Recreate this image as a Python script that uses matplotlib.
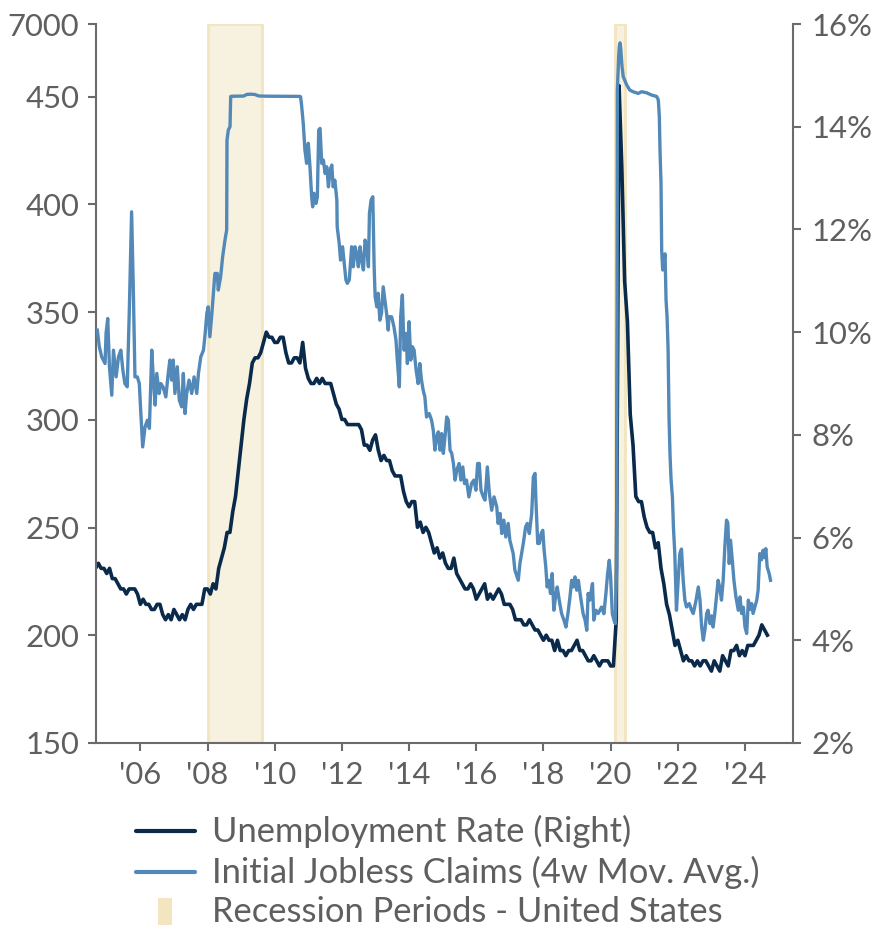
import numpy as np
import matplotlib
matplotlib.use('Agg')
import matplotlib.pyplot as plt
from matplotlib.lines import Line2D
from matplotlib.patches import Rectangle
from matplotlib.ticker import FixedLocator, FuncFormatter

# ---------------- data ----------------
# Unemployment rate (%), monthly, starting Sep 2004
unemp_start_year = 2004
unemp_start_month = 9
unemp = [5.4, 5.5, 5.4, 5.4,
         5.3, 5.4, 5.2, 5.2, 5.1, 5.0, 5.0, 4.9, 5.0, 5.0, 5.0, 4.9,
         4.7, 4.8, 4.7, 4.7, 4.6, 4.6, 4.7, 4.7, 4.5, 4.4, 4.5, 4.4,
         4.6, 4.5, 4.4, 4.5, 4.4, 4.6, 4.7, 4.6, 4.7, 4.7, 4.7, 5.0,
         5.0, 4.9, 5.1, 5.0, 5.4, 5.6, 5.8, 6.1, 6.1, 6.5, 6.8, 7.3,
         7.8, 8.3, 8.7, 9.0, 9.4, 9.5, 9.5, 9.6, 9.8, 10.0, 9.9, 9.9,
         9.8, 9.8, 9.9, 9.9, 9.6, 9.4, 9.4, 9.5, 9.5, 9.4, 9.8, 9.3,
         9.1, 9.0, 9.0, 9.1, 9.0, 9.1, 9.0, 9.0, 9.0, 8.8, 8.6, 8.5,
         8.3, 8.3, 8.2, 8.2, 8.2, 8.2, 8.2, 8.1, 7.8, 7.8, 7.7, 7.9,
         8.0, 7.7, 7.5, 7.6, 7.5, 7.5, 7.3, 7.2, 7.2, 7.2, 6.9, 6.7,
         6.6, 6.7, 6.7, 6.2, 6.3, 6.1, 6.2, 6.1, 5.9, 5.7, 5.8, 5.6,
         5.7, 5.5, 5.4, 5.4, 5.6, 5.3, 5.2, 5.1, 5.0, 5.0, 5.1, 5.0,
         4.8, 4.9, 5.0, 5.1, 4.8, 4.9, 4.8, 4.9, 5.0, 4.9, 4.7, 4.7,
         4.7, 4.6, 4.4, 4.4, 4.4, 4.3, 4.3, 4.4, 4.3, 4.2, 4.2, 4.1,
         4.0, 4.1, 4.0, 4.0, 3.8, 4.0, 3.8, 3.8, 3.7, 3.8, 3.8, 3.9,
         4.0, 3.8, 3.8, 3.7, 3.6, 3.6, 3.7, 3.6, 3.5, 3.6, 3.6, 3.6,
         3.5, 3.5, 4.4, 14.8, 13.2, 11.0, 10.2, 8.4, 7.8, 6.8, 6.7, 6.7,
         6.4, 6.2, 6.1, 6.1, 5.8, 5.9, 5.4, 5.1, 4.7, 4.5, 4.2, 3.9,
         4.0, 3.8, 3.6, 3.7, 3.6, 3.6, 3.5, 3.6, 3.5, 3.6, 3.6, 3.5,
         3.4, 3.6, 3.5, 3.4, 3.7, 3.6, 3.5, 3.8, 3.8, 3.9, 3.7, 3.8,
         3.7, 3.9, 3.9, 3.9, 4.0, 4.1, 4.3, 4.2, 4.1]

# Initial jobless claims, 4-week moving average (thousands): decimal year, value
claims_t = [2004.72, 2004.78, 2004.85, 2004.95, 2004.98, 2005.03, 2005.08, 2005.15, 2005.20, 2005.28,
            2005.35, 2005.42, 2005.48, 2005.54, 2005.61, 2005.67, 2005.74, 2005.79, 2005.84, 2005.91,
            2005.97, 2006.01, 2006.07, 2006.14, 2006.21, 2006.27, 2006.34, 2006.39, 2006.44, 2006.49,
            2006.56, 2006.61, 2006.68, 2006.76, 2006.83, 2006.88, 2006.93, 2006.98, 2007.03, 2007.10,
            2007.16, 2007.23, 2007.28, 2007.33, 2007.38, 2007.45, 2007.53, 2007.60, 2007.68, 2007.73,
            2007.80, 2007.88, 2007.93, 2007.98, 2008.02, 2008.07, 2008.13, 2008.19, 2008.22, 2008.29,
            2008.32, 2008.39, 2008.45, 2008.52, 2008.57, 2008.58, 2008.62, 2008.67, 2008.69, 2008.72,
            2008.85, 2009.00, 2009.08, 2009.12, 2009.17, 2009.30, 2009.42, 2009.47, 2009.53, 2009.80,
            2010.20, 2010.50, 2010.74, 2010.77, 2010.80, 2010.85, 2010.90, 2010.95, 2011.00, 2011.05,
            2011.10, 2011.13, 2011.17, 2011.23, 2011.27, 2011.31, 2011.35, 2011.40, 2011.45, 2011.50,
            2011.55, 2011.60, 2011.65, 2011.70, 2011.74, 2011.79, 2011.85, 2011.86, 2011.92, 2011.96,
            2012.02, 2012.06, 2012.12, 2012.16, 2012.22, 2012.29, 2012.34, 2012.39, 2012.44, 2012.49,
            2012.54, 2012.59, 2012.64, 2012.69, 2012.74, 2012.79, 2012.82, 2012.87, 2012.92, 2012.96,
            2012.99, 2013.04, 2013.08, 2013.13, 2013.18, 2013.23, 2013.28, 2013.33, 2013.38, 2013.40,
            2013.48, 2013.55, 2013.61, 2013.65, 2013.71, 2013.75, 2013.80, 2013.85, 2013.91, 2013.95,
            2014.00, 2014.05, 2014.10, 2014.15, 2014.21, 2014.27, 2014.32, 2014.37, 2014.42, 2014.47,
            2014.52, 2014.60, 2014.67, 2014.72, 2014.77, 2014.82, 2014.87, 2014.92, 2014.97, 2015.02,
            2015.07, 2015.12, 2015.17, 2015.22, 2015.27, 2015.32, 2015.37, 2015.42, 2015.49, 2015.54,
            2015.60, 2015.65, 2015.71, 2015.78, 2015.86, 2015.93, 2015.99, 2016.04, 2016.09, 2016.14,
            2016.21, 2016.26, 2016.33, 2016.39, 2016.46, 2016.53, 2016.61, 2016.65, 2016.71, 2016.76,
            2016.82, 2016.88, 2016.95, 2017.00, 2017.10, 2017.15, 2017.25, 2017.30, 2017.40, 2017.47,
            2017.52, 2017.58, 2017.65, 2017.70, 2017.75, 2017.78, 2017.83, 2017.88, 2017.93, 2017.98,
            2018.02, 2018.07, 2018.11, 2018.16, 2018.21, 2018.26, 2018.31, 2018.36, 2018.41, 2018.47,
            2018.54, 2018.61, 2018.67, 2018.73, 2018.79, 2018.84, 2018.89, 2018.94, 2018.99, 2019.04,
            2019.09, 2019.18, 2019.24, 2019.29, 2019.33, 2019.38, 2019.46, 2019.50, 2019.56, 2019.63,
            2019.73, 2019.80, 2019.86, 2019.91, 2019.96, 2020.00, 2020.05, 2020.10, 2020.14, 2020.18,
            2020.20, 2020.22, 2020.24, 2020.26, 2020.28, 2020.30, 2020.34, 2020.375, 2020.48, 2020.57,
            2020.67, 2020.82, 2020.92, 2021.07, 2021.22, 2021.37, 2021.42, 2021.45, 2021.47, 2021.50,
            2021.52, 2021.55, 2021.62, 2021.65, 2021.68, 2021.71, 2021.74, 2021.77, 2021.80, 2021.84,
            2021.87, 2021.91, 2021.96, 2022.01, 2022.06, 2022.11, 2022.16, 2022.21, 2022.26, 2022.34,
            2022.41, 2022.46, 2022.54, 2022.61, 2022.66, 2022.71, 2022.76, 2022.81, 2022.86, 2022.90,
            2022.96, 2023.01, 2023.05, 2023.10, 2023.15, 2023.20, 2023.25, 2023.30, 2023.35, 2023.40,
            2023.45, 2023.49, 2023.53, 2023.57, 2023.63, 2023.67, 2023.73, 2023.80, 2023.85, 2023.90,
            2023.95, 2024.00, 2024.05, 2024.10, 2024.15, 2024.20, 2024.24, 2024.29, 2024.35, 2024.39,
            2024.44, 2024.49, 2024.54, 2024.58, 2024.62, 2024.66, 2024.72, 2024.76]
claims_v = [341.6, 333.8, 329.2, 326.1, 340.1, 347.0, 324.6, 311.4, 332.3, 319.9,
            329.2, 332.3, 323.0, 316.8, 315.3, 349.4, 396.5, 361.7, 319.9, 319.9,
            316.8, 304.5, 287.4, 296.7, 299.8, 296.0, 332.3, 318.4, 306.8, 321.5,
            312.2, 316.8, 315.1, 310.6, 321.5, 327.7, 318.4, 327.7, 312.2, 324.6,
            309.1, 306.0, 321.5, 302.9, 312.2, 318.4, 312.2, 319.9, 312.2, 321.5,
            329.2, 332.3, 340.1, 349.4, 352.4, 338.5, 349.4, 361.7, 367.9, 367.9,
            360.2, 366.3, 375.6, 383.4, 388.0, 429.8, 434.5, 436.0, 455.0, 475.0,
            480.0, 490.0, 500.0, 560.0, 640.0, 665.0, 630.0, 560.0, 500.0, 480.0,
            470.0, 470.0, 465.0, 449.9, 446.0, 437.6, 425.2, 419.0, 428.3, 417.4,
            403.5, 398.8, 405.1, 400.4, 403.5, 434.5, 435.2, 419.0, 420.5, 414.3,
            417.4, 408.1, 415.9, 418.2, 408.1, 411.2, 402.0, 389.6, 381.9, 374.1,
            380.3, 374.1, 364.9, 363.3, 364.9, 380.3, 371.0, 380.3, 377.2, 371.0,
            380.3, 374.1, 369.5, 383.4, 380.3, 371.0, 395.8, 402.0, 403.5, 371.0,
            357.1, 352.4, 358.7, 346.2, 349.4, 361.7, 355.5, 349.4, 341.6, 347.8,
            347.8, 343.1, 337.0, 327.7, 315.3, 347.8, 357.9, 332.3, 340.1, 326.1,
            345.5, 327.7, 333.9, 332.3, 323.0, 316.8, 326.1, 318.4, 313.7, 310.6,
            301.3, 302.9, 299.8, 295.2, 285.9, 292.1, 294.4, 285.9, 293.6, 284.4,
            292.1, 301.3, 299.8, 285.9, 284.4, 279.7, 272.0, 276.6, 279.7, 272.0,
            278.1, 270.4, 272.0, 264.2, 270.4, 272.0, 267.3, 279.7, 279.7, 267.3,
            264.2, 262.7, 278.1, 265.8, 258.0, 264.2, 259.6, 251.9, 256.5, 247.2,
            253.4, 245.6, 251.9, 244.1, 237.9, 230.2, 225.5, 233.3, 242.6, 250.3,
            251.9, 247.2, 256.5, 273.5, 275.1, 261.1, 242.6, 242.6, 247.2, 248.7,
            239.5, 231.7, 222.4, 225.5, 219.4, 228.6, 211.6, 217.8, 222.4, 216.3,
            210.1, 207.0, 203.8, 210.1, 217.8, 225.5, 222.4, 227.1, 220.9, 225.5,
            219.4, 210.1, 207.0, 202.3, 219.4, 216.3, 224.0, 207.0, 211.6, 210.1,
            213.1, 210.0, 219.4, 228.6, 234.8, 227.1, 210.1, 207.0, 205.4, 232.0,
            1000.0, 2600.0, 4100.0, 5000.0, 5300.0, 4800.0, 3142.0, 2239.0, 1489.0, 1037.0,
            884.0, 734.0, 884.0, 790.0, 585.0, 455.0, 448.4, 440.6, 425.0, 409.8,
            378.7, 369.5, 377.0, 355.5, 347.8, 333.0, 300.0, 283.0, 272.0, 264.0,
            250.0, 238.0, 211.6, 225.5, 237.9, 240.0, 225.5, 216.3, 213.1, 214.7,
            211.6, 210.1, 216.0, 222.4, 216.3, 203.8, 197.7, 203.0, 210.1, 211.6,
            205.4, 209.0, 203.8, 210.0, 217.8, 225.5, 222.0, 216.3, 225.5, 241.0,
            253.4, 252.0, 233.3, 244.1, 233.3, 225.5, 217.8, 211.6, 217.8, 210.1,
            213.0, 203.8, 200.8, 216.3, 212.0, 214.7, 210.1, 213.0, 216.3, 220.9,
            237.9, 235.0, 239.5, 236.0, 240.2, 231.7, 228.6, 225.5]

# Recession periods (decimal years as drawn)
recessions = [(2008.00, 2009.63), (2020.13, 2020.43)]

left_ticks = [150, 200, 250, 300, 350, 400, 450, 7000]
right_ticks = [2, 4, 6, 8, 10, 12, 14, 16]
x_ticks = [2006, 2008, 2010, 2012, 2014, 2016, 2018, 2020, 2022, 2024]
x_labels = ["'06", "'08", "'10", "'12", "'14", "'16", "'18", "'20", "'22", "'24"]

legend_labels = ["Unemployment Rate (Right)",
                 "Initial Jobless Claims (4w Mov. Avg.)",
                 "Recession Periods - United States"]

# ---------------- style ----------------
FONT = 'Lato'
plt.rcParams['font.family'] = [FONT, 'DejaVu Sans']
TXT = '#5f5f5f'
SPINE = '#6b6b6b'
C_UNEMP = '#0a2a4c'
C_CLAIMS = '#5289b8'
REC_FACE = '#f7f1df'
REC_EDGE = '#f2e5bf'
TICK_SIZE = 22.3
LEG_SIZE = 24.8

fig = plt.figure(figsize=(8.79, 9.27), dpi=100)
ax2 = fig.add_axes([0.1092, 0.1985, 0.7930, 0.7756])  # right axis (bottom layer)
ax = fig.add_axes(ax2.get_position(), sharex=ax2)     # left axis (top layer)
ax.patch.set_visible(False)

# piecewise scale for claims axis
K = 33.66 / 6550.0

def fwd(v):
    v = np.asarray(v, dtype=float)
    return np.where(v <= 450, v, 450 + (v - 450) * K)

def inv(u):
    u = np.asarray(u, dtype=float)
    return np.where(u <= 450, u, 450 + (u - 450) / K)

# recession shading
for a, b in recessions:
    ax2.axvspan(a, b, facecolor=REC_FACE, edgecolor=REC_EDGE, linewidth=2.0, zorder=0)

# unemployment on right axis
months = np.arange(len(unemp))
unemp_t = unemp_start_year + (unemp_start_month - 1 + months) / 12.0
ax2.plot(unemp_t, unemp, color=C_UNEMP, lw=2.6, solid_joinstyle='round', zorder=3)
ax2.set_ylim(2, 16)

# claims on left axis
ax.set_yscale('function', functions=(fwd, inv))
ax.plot(claims_t, claims_v, color=C_CLAIMS, lw=2.4, solid_joinstyle='round', zorder=4)
ax.set_ylim(150, 7000)
ax.set_xlim(2004.68, 2025.43)

# axes cosmetics
for s in ['top', 'right']:
    ax.spines[s].set_visible(False)
for s in ['left', 'bottom']:
    ax.spines[s].set_color(SPINE)
    ax.spines[s].set_linewidth(1.5)
for s in ['top', 'left', 'bottom']:
    ax2.spines[s].set_visible(False)
ax2.spines['right'].set_color(SPINE)
ax2.spines['right'].set_linewidth(1.5)

ax.yaxis.set_major_locator(FixedLocator(left_ticks))
ax.yaxis.set_minor_locator(FixedLocator([]))
ax.yaxis.set_major_formatter(FuncFormatter(lambda v, p: f"{int(round(v))}"))
ax.set_xticks(x_ticks)
ax.set_xticklabels(x_labels)
ax.tick_params(axis='both', which='major', colors=SPINE, labelcolor=TXT,
               labelsize=TICK_SIZE, length=6, width=1.5)
ax.tick_params(axis='x', pad=7)
ax.tick_params(axis='y', pad=6)

ax2.yaxis.tick_right()
ax2.yaxis.set_major_locator(FixedLocator(right_ticks))
ax2.yaxis.set_major_formatter(FuncFormatter(lambda v, p: f"{int(round(v))}%"))
ax2.tick_params(axis='y', colors=SPINE, labelcolor=TXT, labelsize=TICK_SIZE,
                length=6, width=1.5, pad=7)
ax2.tick_params(axis='x', bottom=False, labelbottom=False)

# legend (drawn in figure pixels)
W, H = 879.0, 927.0
def fx(px):
    return px / W
def fy(py):
    return 1 - py / H

legend_y = [831, 872, 912]
fig.add_artist(Line2D([fx(136), fx(195)], [fy(legend_y[0])] * 2, color=C_UNEMP, lw=3.0,
                      solid_capstyle='round', transform=fig.transFigure))
fig.add_artist(Line2D([fx(136), fx(195)], [fy(legend_y[1])] * 2, color=C_CLAIMS, lw=3.0,
                      solid_capstyle='round', transform=fig.transFigure))
fig.add_artist(Rectangle((fx(158), fy(925)), 14 / W, 27 / H, facecolor=REC_EDGE,
                         edgecolor='none', transform=fig.transFigure))
for yy, lab in zip(legend_y, legend_labels):
    fig.text(fx(212), fy(yy), lab, color=TXT, fontsize=LEG_SIZE, ha='left', va='center')

fig.savefig('out.png', dpi=100)
